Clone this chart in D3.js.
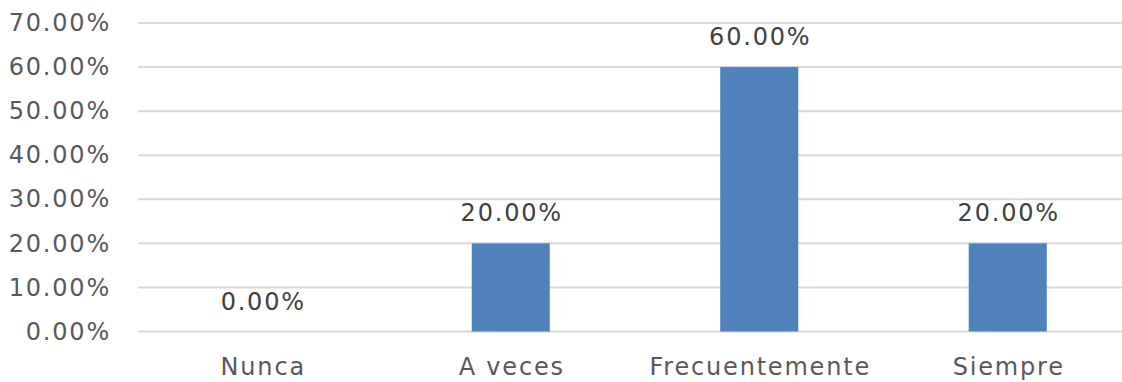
<!DOCTYPE html>
<html><head><meta charset="utf-8">
<script src="https://cdn.jsdelivr.net/npm/d3@7"></script>
<style>html,body{margin:0;padding:0;background:#fff;}</style>
</head><body>
<svg id="c" width="1122" height="382"></svg>
<script>
const categories = ["Nunca", "A veces", "Frecuentemente", "Siempre"];
const values = [0.00, 0.20, 0.60, 0.20];
const yTicks = [0, 0.1, 0.2, 0.3, 0.4, 0.5, 0.6, 0.7];

const svg = d3.select("#c");
const font = "DejaVu Sans, Verdana, sans-serif";
const ls = "1.8px";
const x = d3.scaleBand().domain(categories).range([138, 1132]).paddingInner(0.686).paddingOuter(0.343);
const y = d3.scaleLinear().domain([0, 0.7]).range([331.5, 23]);
const fmt = d => (d * 100).toFixed(2) + "%";

// gridlines
svg.append("g").selectAll("line").data(yTicks).join("line")
  .attr("x1", 138).attr("x2", 1122)
  .attr("y1", d => y(d)).attr("y2", d => y(d))
  .attr("stroke", "#d9d9d9").attr("stroke-width", 2);

// y axis labels
const yAxis = d3.axisLeft(y).tickValues(yTicks).tickFormat(fmt).tickSize(0).tickPadding(0);
const ya = svg.append("g").attr("transform", "translate(111,0)").call(yAxis);
ya.select(".domain").remove();
ya.selectAll("text").attr("font-family", font).attr("font-size", 24).attr("fill", "#595959").attr("letter-spacing", ls);

// bars
svg.append("g").selectAll("rect").data(values).join("rect")
  .attr("x", (d, i) => x(categories[i]))
  .attr("width", x.bandwidth())
  .attr("y", d => y(d))
  .attr("height", d => y(0) - y(d))
  .attr("fill", "#4f81bd");

// data labels
svg.append("g").selectAll("text").data(values).join("text")
  .attr("x", (d, i) => x(categories[i]) + x.bandwidth() / 2 + 1)
  .attr("y", d => y(d) - 22)
  .attr("text-anchor", "middle")
  .attr("font-family", font).attr("font-size", 24).attr("fill", "#404040").attr("letter-spacing", ls)
  .text(fmt);

// x axis labels
const xAxis = d3.axisBottom(x).tickSize(0).tickPadding(0);
const xa = svg.append("g").attr("transform", "translate(1,358)").call(xAxis);
xa.select(".domain").remove();
xa.selectAll("text").attr("font-family", font).attr("font-size", 24).attr("fill", "#595959").attr("letter-spacing", ls).attr("dy", "0.71em");
</script>
</body></html>
